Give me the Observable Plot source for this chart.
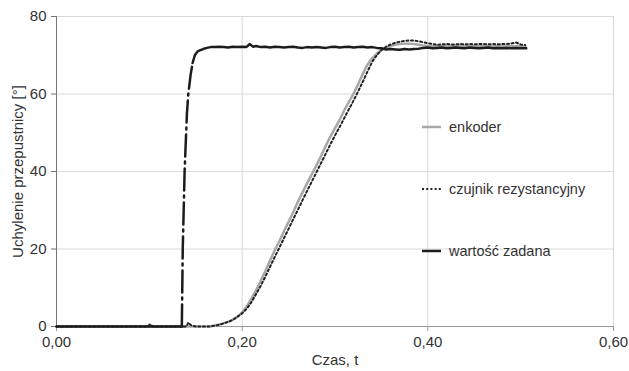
<!DOCTYPE html>
<html><head><meta charset="utf-8">
<script src="https://cdn.jsdelivr.net/npm/d3@7"></script>
<script src="https://cdn.jsdelivr.net/npm/@observablehq/plot@0.6"></script>
<style>
body{margin:0;background:#fff;font-family:"Liberation Sans",Arial,sans-serif}
#wrap{position:relative;width:629px;height:371px}
.row{position:absolute;left:422px;height:16px;display:flex;align-items:center;white-space:nowrap;font-size:14.5px;color:#333}
.row svg{margin-right:8px}
</style>
</head><body>
<div id="wrap"></div>
<script>
// ---- data ----
const xTicks = [0, 0.2, 0.4, 0.6];
const yTicks = [0, 20, 40, 60, 80];
const seriesNames = ["enkoder", "czujnik rezystancyjny", "wartość zadana"];

// wartość zadana (setpoint)
const setT = [0, 0.05, 0.10, 0.134, 0.135, 0.136, 0.138, 0.1405, 0.142, 0.1445, 0.1466, 0.149, 0.152, 0.155, 0.158, 0.162, 0.166, 0.17, 0.175, 0.18, 0.185, 0.19, 0.195, 0.20, 0.204, 0.206, 0.208, 0.210, 0.212, 0.215, 0.22, 0.225, 0.23, 0.235, 0.24, 0.245, 0.25, 0.255, 0.26, 0.265, 0.27, 0.275, 0.28, 0.285, 0.29, 0.295, 0.30, 0.305, 0.31, 0.315, 0.32, 0.325, 0.33, 0.335, 0.34, 0.345, 0.35, 0.355, 0.36, 0.365, 0.37, 0.375, 0.38, 0.385, 0.39, 0.395, 0.40, 0.405, 0.41, 0.415, 0.42, 0.425, 0.43, 0.435, 0.44, 0.445, 0.45, 0.455, 0.46, 0.465, 0.47, 0.475, 0.48, 0.485, 0.49, 0.495, 0.50, 0.506];
const setV = [0, 0, 0, 0, 0, 20, 40, 55, 60, 65, 68, 70, 71, 71.3, 71.6, 71.9, 72.1, 72.1, 72.2, 72.1, 72.0, 72.2, 72.1, 72.2, 72.1, 72.4, 72.9, 72.5, 72.2, 72.4, 72.1, 72.2, 72.0, 72.2, 72.1, 72.0, 72.1, 72.2, 72.0, 71.9, 72.1, 72.0, 72.1, 72.0, 71.9, 72.1, 72.2, 72.0, 72.1, 72.2, 72.0, 72.1, 72.2, 72.0, 72.1, 71.9, 71.8, 71.5, 71.6, 71.5, 71.4, 71.6, 71.5, 71.6, 71.7, 71.9, 72.0, 71.8, 71.9, 72.0, 71.8, 71.9, 72.0, 71.9, 71.8, 72.0, 71.9, 71.8, 71.9, 72.0, 71.8, 71.9, 71.8, 71.9, 71.8, 71.9, 71.8, 71.8];

// enkoder
const encT = [0, 0.05, 0.10, 0.15, 0.165, 0.17, 0.175, 0.18, 0.185, 0.19, 0.195, 0.20, 0.205, 0.21, 0.215, 0.22, 0.225, 0.23, 0.235, 0.24, 0.245, 0.25, 0.255, 0.26, 0.265, 0.27, 0.275, 0.28, 0.285, 0.29, 0.295, 0.30, 0.305, 0.31, 0.315, 0.32, 0.325, 0.33, 0.335, 0.34, 0.345, 0.35, 0.355, 0.36, 0.365, 0.37, 0.375, 0.38, 0.385, 0.39, 0.395, 0.40, 0.41, 0.42, 0.43, 0.44, 0.45, 0.46, 0.47, 0.48, 0.49, 0.50, 0.505];
const encV = [0, 0, 0, 0, 0, 0.2, 0.5, 0.8, 1.2, 1.8, 2.6, 3.6, 5.2, 7.2, 9.4, 11.8, 14.3, 17.0, 19.6, 22.0, 24.6, 27.0, 29.5, 32.2, 34.6, 37.0, 39.3, 41.6, 44.0, 46.6, 49.0, 51.2, 53.3, 55.8, 58.0, 60.1, 62.6, 65.2, 67.6, 69.2, 70.4, 71.4, 72.0, 72.4, 72.7, 72.9, 73.0, 73.0, 72.9, 72.7, 72.5, 72.4, 72.3, 72.4, 72.3, 72.4, 72.3, 72.4, 72.3, 72.4, 72.3, 72.4, 72.2];

// czujnik rezystancyjny
const resT = [0, 0.05, 0.098, 0.101, 0.104, 0.14, 0.142, 0.145, 0.15, 0.165, 0.17, 0.175, 0.18, 0.185, 0.19, 0.195, 0.20, 0.205, 0.21, 0.215, 0.22, 0.225, 0.23, 0.235, 0.24, 0.245, 0.25, 0.255, 0.26, 0.265, 0.27, 0.275, 0.28, 0.285, 0.29, 0.295, 0.30, 0.305, 0.31, 0.315, 0.32, 0.325, 0.33, 0.335, 0.34, 0.345, 0.35, 0.355, 0.36, 0.365, 0.37, 0.375, 0.38, 0.385, 0.39, 0.395, 0.40, 0.405, 0.41, 0.415, 0.42, 0.425, 0.43, 0.435, 0.44, 0.445, 0.45, 0.455, 0.46, 0.465, 0.47, 0.475, 0.48, 0.485, 0.49, 0.495, 0.50, 0.505];
const resV = [0, 0, 0, 0.6, 0, 0, 1.0, 0.3, 0, 0, 0.2, 0.4, 0.8, 1.2, 1.7, 2.5, 3.4, 4.6, 6.3, 8.4, 10.5, 12.9, 15.4, 17.9, 20.3, 22.8, 25.2, 27.7, 30.1, 32.6, 35.0, 37.4, 39.8, 42.2, 44.6, 47.0, 49.3, 51.5, 53.8, 56.1, 58.3, 60.7, 63.2, 65.8, 68.3, 70.0, 71.3, 72.2, 72.8, 73.2, 73.5, 73.7, 73.8, 73.8, 73.6, 73.4, 73.1, 72.9, 72.7, 72.8, 72.9, 72.8, 72.8, 72.9, 72.8, 72.9, 72.8, 72.9, 72.9, 72.8, 72.9, 72.8, 72.9, 72.9, 73.0, 73.3, 72.8, 72.6];

// ---- build ----
const enc = encT.map((t, i) => ({t, v: encV[i]}));
const res = resT.map((t, i) => ({t, v: resV[i]}));
const set = setT.map((t, i) => ({t, v: setV[i]}));
const dashFrom = 0.135, dashTo = 0.1466;
const setA = set.filter(d => d.t <= dashFrom);
const setRise = set.filter(d => d.t >= dashFrom && d.t <= dashTo);
const setB = set.filter(d => d.t >= dashTo);

const fmt = d => d.toFixed(2).replace(".", ",");
const font = "Liberation Sans, Arial, sans-serif";

const chart = Plot.plot({
  width: 629, height: 371,
  marginLeft: 56, marginRight: 16, marginTop: 16, marginBottom: 45,
  style: {fontFamily: font, fontSize: "15px", color: "#333", background: "#fff"},
  x: {domain: [0, 0.6]},
  y: {domain: [0, 80]},
  marks: [
    Plot.gridY(yTicks.slice(1), {stroke: "#d9d9d9", strokeOpacity: 1}),
    Plot.gridX(xTicks.slice(1), {stroke: "#d9d9d9", strokeOpacity: 1}),
    Plot.axisY(yTicks, {tickSize: 5, tickPadding: 5, stroke: "#777", fill: "#333",
      label: "Uchylenie przepustnicy [°]", labelAnchor: "center", labelArrow: "none", labelOffset: 44}),
    Plot.axisX(xTicks, {tickSize: 5, tickPadding: 5, stroke: "#999", fill: "#333", tickFormat: fmt,
      label: "Czas, t", labelAnchor: "center", labelArrow: "none", labelOffset: 38}),
    Plot.ruleX([0], {stroke: "#777"}),
    Plot.ruleY([0], {stroke: "#999"}),
    Plot.line(enc, {x: "t", y: "v", stroke: "#a8a8a8", strokeWidth: 2.5}),
    Plot.line(res, {x: "t", y: "v", stroke: "#222", strokeWidth: 2, strokeDasharray: "2,2.6"}),
    Plot.line(setA, {x: "t", y: "v", stroke: "#1c1c1c", strokeWidth: 2.5}),
    Plot.line(setRise, {x: "t", y: "v", stroke: "#1c1c1c", strokeWidth: 2.5, strokeDasharray: "22,5,2,5"}),
    Plot.line(setB, {x: "t", y: "v", stroke: "#1c1c1c", strokeWidth: 2.5})
  ]
});
const wrap = document.getElementById("wrap");
wrap.appendChild(chart);

// legend
const legendStyles = [
  {stroke: "#a8a8a8", dash: null, w: 2.5},
  {stroke: "#222", dash: "2,2.2", w: 2},
  {stroke: "#1c1c1c", dash: null, w: 2.5}
];
const legendY = [127, 189, 251];
seriesNames.forEach((name, i) => {
  const row = document.createElement("div");
  row.className = "row";
  row.style.top = (legendY[i] - 8) + "px";
  const s = legendStyles[i];
  row.innerHTML = `<svg width="19" height="6"><line x1="0" x2="19" y1="3" y2="3" stroke="${s.stroke}" stroke-width="${s.w}" ${s.dash ? `stroke-dasharray="${s.dash}"` : ""}/></svg><span>${name}</span>`;
  wrap.appendChild(row);
});
</script>
</body></html>
